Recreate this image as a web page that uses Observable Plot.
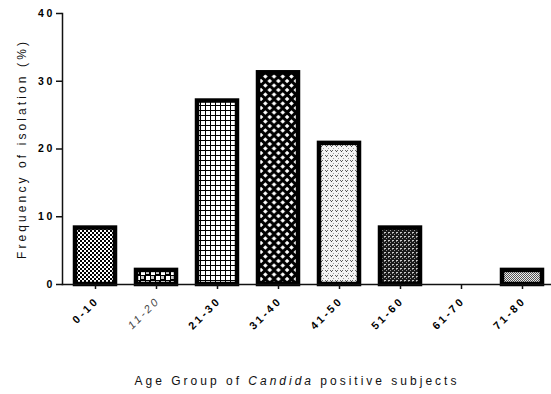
<!DOCTYPE html>
<html><head><meta charset="utf-8">
<script src="https://cdn.jsdelivr.net/npm/d3@7"></script>
<script src="https://cdn.jsdelivr.net/npm/@observablehq/plot@0.6"></script>
<style>
body{margin:0;background:#fff;}
</style>
</head><body><div id="chart"></div>
<script>
const ageGroups = ["0-10","11-20","21-30","31-40","41-50","51-60","61-70","71-80"];
const frequency = [8.33, 2.08, 27.08, 31.25, 20.83, 8.33, 0, 2.08];
const patternIds = ["pat0","pat1","pat2","pat3","pat4","pat5","pat6","pat7"];
const yTicks = [0, 10, 20, 30, 40];
const xTitleParts = ["Age Group of ", "Candida", " positive subjects"];
const yTitle = "Frequency of isolation (%)";
const italicGroup = "11-20";

const data = ageGroups.map((g, i) => ({group: g, value: frequency[i], fill: `url(#${patternIds[i]})`}));

const font = "'Liberation Sans', Arial, Helvetica, sans-serif";

const chart = Plot.plot({
  width: 551, height: 394,
  marginLeft: 62, marginRight: 0, marginTop: 13, marginBottom: 110,
  style: {fontFamily: font, background: "white", overflow: "visible", letterSpacing: "2.6px", color: "black"},
  x: {domain: ageGroups, paddingInner: 0.34, paddingOuter: 0.17, insetLeft: 2.5, insetRight: -1.5, axis: null},
  y: {domain: [0, 40], axis: null},
  color: {type: "identity"},
  marks: [
    Plot.barY(data.filter(d => d.value > 0), {x: "group", y: "value", fill: d => d.fill, stroke: "black", strokeWidth: 4.5}),
    Plot.frame({anchor: "left", stroke: "#111", strokeWidth: 1.5}),
    Plot.frame({anchor: "bottom", stroke: "#111", strokeWidth: 1.5}),
    Plot.axisY({ticks: yTicks, tickSize: 6, tickPadding: 1.5, fontWeight: "bold", fontSize: 10.5, label: null, strokeWidth: 1.5, stroke: "#111"}),
    Plot.axisX({tickSize: 5, tickFormat: () => "", label: null, strokeWidth: 1.5, stroke: "#111"}),
    Plot.text(data.filter(d => d.group !== italicGroup), {x: "group", y: () => 0, text: "group", rotate: -45, textAnchor: "end", lineAnchor: "bottom", dx: 4, dy: 17, fontWeight: "bold", fontSize: 10.8}),
    Plot.text(data.filter(d => d.group === italicGroup), {x: "group", y: () => 0, text: "group", rotate: -45, textAnchor: "end", lineAnchor: "bottom", dx: 4, dy: 17, fontStyle: "italic", fontSize: 10.8, fill: "#444"}),
    Plot.text([yTitle], {frameAnchor: "left", textAnchor: "middle", rotate: -90, dx: -40, fontSize: 12, fill: "#111"}),
    Plot.text([xTitleParts.join("")], {frameAnchor: "bottom", textAnchor: "middle", dx: -10, lineAnchor: "bottom", dy: 100, fontSize: 12, fill: "#111"})
  ]
});

const ns = "http://www.w3.org/2000/svg";
const defs = document.createElementNS(ns, "defs");
defs.innerHTML = `
<pattern id="pat0" width="4" height="4" patternUnits="userSpaceOnUse">
  <rect width="4" height="4" fill="#fff"/><rect width="2" height="2" fill="#000"/><rect x="2" y="2" width="2" height="2" fill="#000"/>
</pattern>
<pattern id="pat1" width="10" height="10" patternUnits="userSpaceOnUse">
  <rect width="10" height="10" fill="#000"/><rect x="1" y="1" width="4" height="4" fill="#fff"/><rect x="6" y="6" width="4" height="4" fill="#fff"/><rect x="6" y="1" width="3" height="3" fill="#ccc"/><rect x="1" y="6" width="3" height="3" fill="#ccc"/>
</pattern>
<pattern id="pat2" width="5" height="5" patternUnits="userSpaceOnUse">
  <rect width="5" height="5" fill="#fff"/><rect width="1" height="5" fill="#000"/><rect width="5" height="1" fill="#000"/>
</pattern>
<pattern id="pat3" width="8.7" height="9" patternUnits="userSpaceOnUse">
  <rect width="8.7" height="9" fill="#000"/>
  <path d="M0,-2.3 L2.3,0 L0,2.3 L-2.3,0Z M8.7,-2.3 L11,0 L8.7,2.3 L6.4,0Z M4.35,2.2 L6.65,4.5 L4.35,6.8 L2.05,4.5Z M0,6.7 L2.3,9 L0,11.3 L-2.3,9Z M8.7,6.7 L11,9 L8.7,11.3 L6.4,9Z" fill="#fff"/>
</pattern>
<pattern id="pat4" width="5" height="5" patternUnits="userSpaceOnUse">
  <rect width="5" height="5" fill="#f4f4f4"/><rect x="0" y="0" width="1" height="1" fill="#666"/><rect x="2" y="0" width="1" height="1" fill="#666"/><rect x="1" y="1" width="1" height="1" fill="#444"/><rect x="3" y="3" width="1" height="1" fill="#999"/>
</pattern>
<pattern id="pat5" width="4" height="4" patternUnits="userSpaceOnUse">
  <rect width="4" height="4" fill="#1a1a1a"/><rect x="0" y="0" width="2" height="1" fill="#ccc"/><rect x="0" y="1" width="1" height="1" fill="#888"/><rect x="2" y="2" width="1" height="1" fill="#999"/>
</pattern>
<pattern id="pat6" width="2" height="2" patternUnits="userSpaceOnUse"><rect width="2" height="2" fill="#888"/></pattern>
<pattern id="pat7" width="2" height="2" patternUnits="userSpaceOnUse">
  <rect width="2" height="2" fill="#eee"/><rect width="1" height="1" fill="#555"/><rect x="1" y="1" width="1" height="1" fill="#555"/>
</pattern>`;
chart.insertBefore(defs, chart.firstChild);

// style titles
chart.querySelectorAll("text").forEach(t => {
  if (t.textContent === yTitle) t.style.letterSpacing = "3.1px";
  if (t.textContent === xTitleParts.join("")) {
    t.style.letterSpacing = "3.0px";
    t.textContent = "";
    xTitleParts.forEach((p, i) => {
      const ts = document.createElementNS(ns, "tspan");
      ts.textContent = p;
      if (i === 1) ts.setAttribute("font-style", "italic");
      t.appendChild(ts);
    });
  }
});

document.getElementById("chart").appendChild(chart);
</script>
</body></html>
